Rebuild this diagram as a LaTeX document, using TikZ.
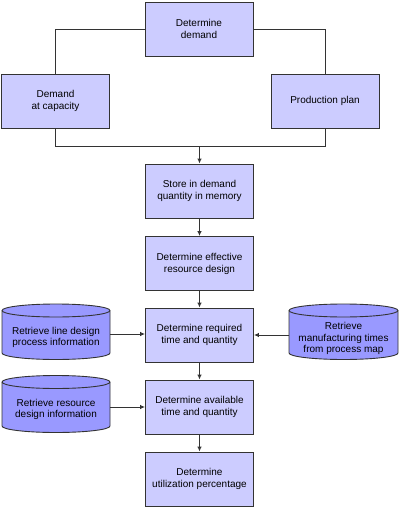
\documentclass[tikz,border=0pt]{standalone}
\usepackage{fontspec}
\setmainfont{Liberation Sans}
\usetikzlibrary{arrows.meta}
\definecolor{boxfill}{HTML}{CCCCFF}
\definecolor{drumfill}{HTML}{9999FF}
\definecolor{edge}{HTML}{333333}
\tikzset{
  procbox/.style={draw=edge, line width=0.9pt, fill=boxfill, minimum width=108pt, minimum height=54pt,
    align=center, font=\fontsize{10pt}{12pt}\selectfont, inner sep=0pt},
  drumtext/.style={align=center, font=\fontsize{10pt}{11.5pt}\selectfont, inner sep=0pt, minimum width=108pt},
  drumline/.style={draw=edge, line width=0.9pt, fill=drumfill},
  conn/.style={draw=edge, line width=0.9pt},
  arr/.style={conn, -{Latex[length=5pt,width=4.5pt]}}
}
\newcommand{\mydrum}[4]{% x0, yt, x1, yb (ellipse half-height 6.5)
  \pgfmathsetmacro{\rx}{(#3-#1)/2}
  \path[drumline] (#1,#2) -- (#1,#4) arc[start angle=180,end angle=0,x radius=\rx,y radius=6.5]
     -- (#3,#2) arc[start angle=0,end angle=-180,x radius=\rx,y radius=6.5] -- cycle;
  \draw[edge, line width=0.9pt] (#1,#2) arc[start angle=180,end angle=0,x radius=\rx,y radius=6.5];
}
\begin{document}
\begin{tikzpicture}[x=1pt,y=-1pt]
\useasboundingbox (0,0) rectangle (400,508);
% process boxes
\node[procbox] (dd) at (199,29) {Determine\\demand};
\node[procbox] (dc) at (55.5,101) {Demand\\at capacity};
\node[procbox] (pp) at (325,101) {Production plan};
\node[procbox] (st) at (199.5,191) {Store in demand\\quantity in memory};
\node[procbox] (ef) at (199.5,263.5) {Determine effective\\resource design};
\node[procbox] (rq) at (199.5,335) {Determine required\\time and quantity};
\node[procbox] (av) at (199.5,407) {Determine available\\time and quantity};
\node[procbox] (ut) at (199.5,479) {Determine\\utilization percentage};
% drums
\mydrum{2}{310.5}{110}{353}
\node[drumtext] (d1) at (56,337.5) {Retrieve line design\\process information};
\mydrum{2}{382}{110}{426}
\node[drumtext] (d2) at (56,409.5) {Retrieve resource\\design information};
\mydrum{289}{310.5}{398}{353}
\node[drumtext] (d3) at (343.5,338.5) {Retrieve\\manufacturing times\\from process map};
% connectors
\coordinate (j) at (199.5,146);
\draw[conn] (dd.west) -| (dc.north);
\draw[conn] (dd.east) -| (pp.north);
\draw[conn] (dc.south) |- (pp.south |- j) -- (pp.south);
\draw[arr] (j) -- (st.north);
\draw[arr] (st) -- (ef);
\draw[arr] (ef) -- (rq);
\draw[arr] (rq) -- (av);
\draw[arr] (av) -- (ut);
\draw[arr] (110,334) -- (rq.west |- 0,334);
\draw[arr] (289,335) -- (rq.east |- 0,335);
\draw[arr] (110,407) -- (av.west);
\end{tikzpicture}
\end{document}
